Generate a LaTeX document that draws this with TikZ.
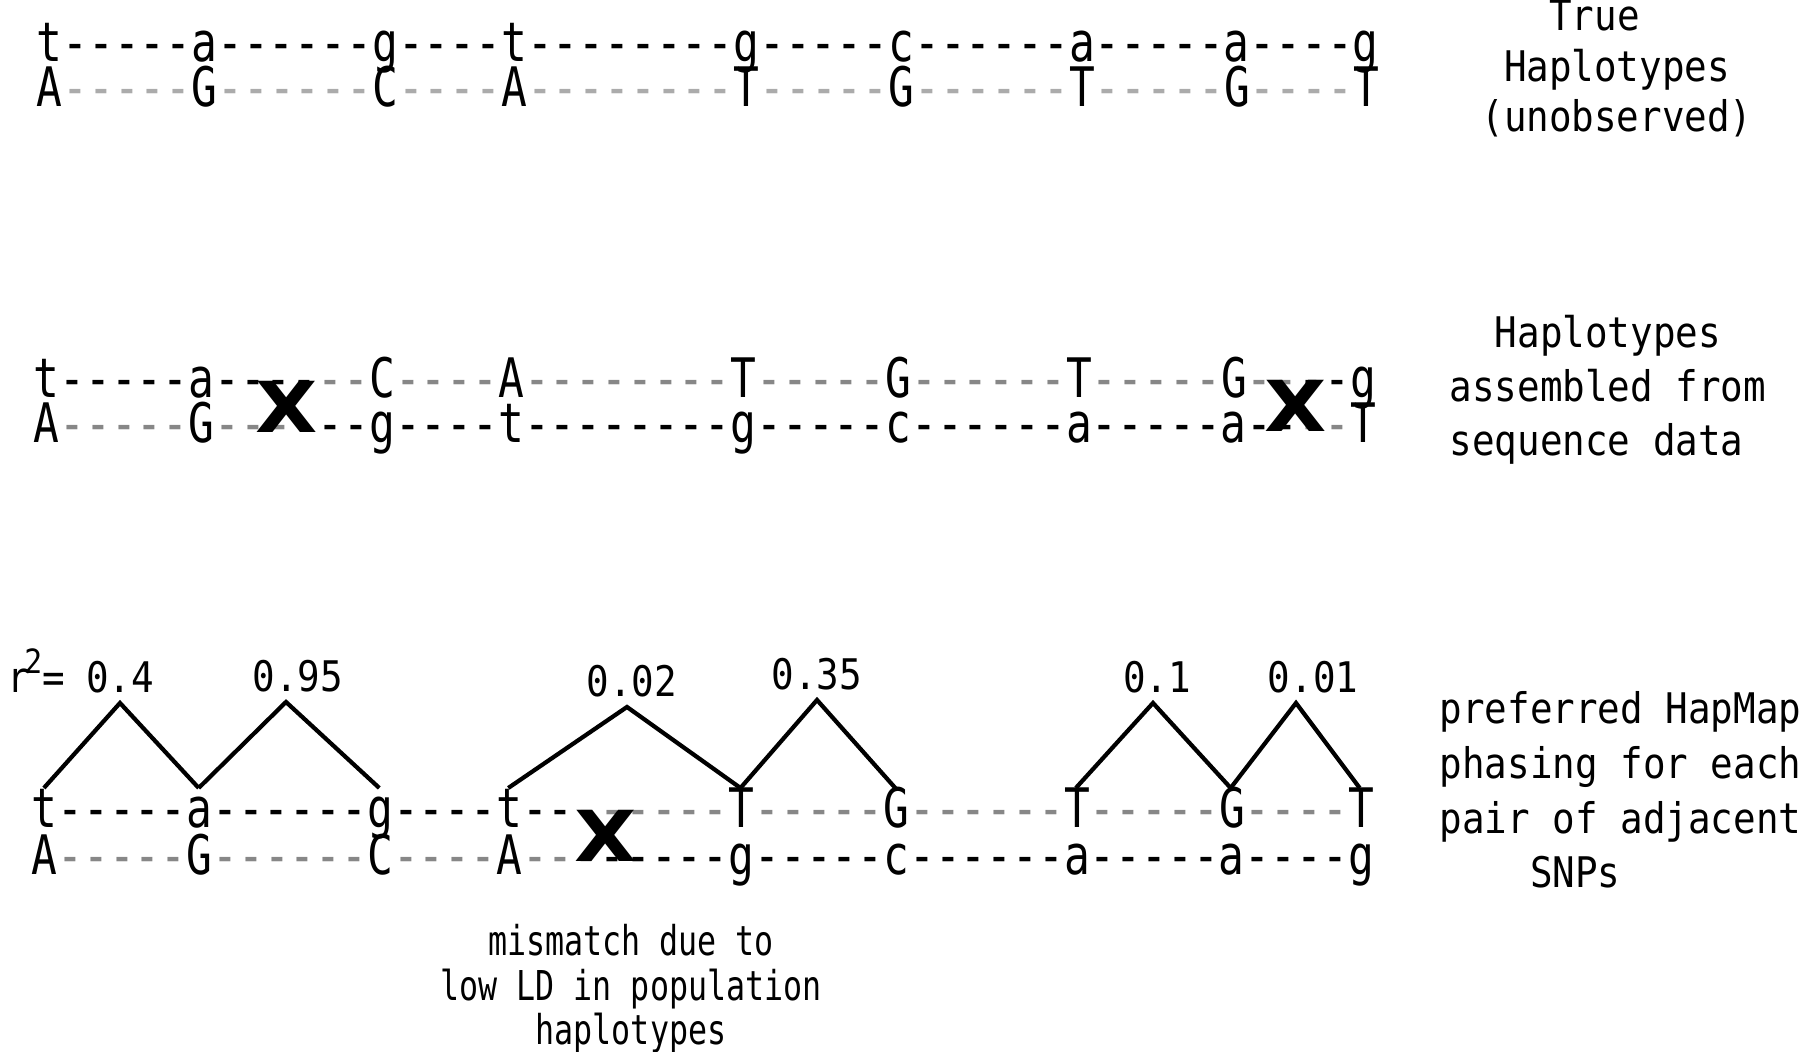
\documentclass[tikz,border=0pt]{standalone}
\usepackage{fontspec}
\usetikzlibrary{positioning, calc}
\newfontfamily\seqfont{DejaVu Sans Mono}[FakeStretch=0.787, Ligatures=TeXOff]
\newfontfamily\lblfont{DejaVu Sans Mono}[FakeStretch=0.89, Ligatures=TeXOff]
\newfontfamily\notefont{DejaVu Sans Mono}[FakeStretch=0.77, Ligatures=TeXOff]
\newfontfamily\xfont{DejaVu Sans}[FakeStretch=1.15]
\definecolor{dashlight}{gray}{0.67}
\definecolor{dashgray}{gray}{0.53}
\newcommand{\dashpale}[1]{\textcolor{dashlight}{#1}}
\newcommand{\dashgrey}[1]{\textcolor{dashgray}{#1}}
\tikzset{
	seq/.style={inner sep=0, anchor=base west, font=\seqfont\fontsize{15.5}{18}\selectfont},
	rsq/.style={inner sep=2.5pt, font=\lblfont\fontsize{12}{15}\selectfont},
	lbl/.style={inner sep=0, align=left, font=\lblfont\fontsize{12}{#1}\selectfont},
	lbl/.default=15,
	note/.style={inner sep=0, align=center, font=\notefont\fontsize{11.7}{12.8}\selectfont},
	cross/.style={inner sep=0, anchor=base, font=\xfont\bfseries\fontsize{20}{20}\selectfont},
	phase/.style={line width=1.2pt},
}
\begin{document}
\begin{tikzpicture}
			\useasboundingbox (0,0) rectangle (18,-10.52);
			
			% true haplotypes
			\node[seq] (r1a) at (0.36,-0.62) {t-----a------g----t--------g-----c------a-----a----g};
			\node[seq, below=4.5mm of r1a.base west, anchor=base west] (r1b) {A\dashpale{-----}G\dashpale{------}C\dashpale{----}A\dashpale{--------}T\dashpale{-----}G\dashpale{------}T\dashpale{-----}G\dashpale{----}T};
			\node[lbl=14.5, align=center, anchor=base] (truelbl) at (16.17,-1.32) {True\hphantom{00}\\Haplotypes\\(unobserved)};
			
			% assembled from sequence data
			\node[seq] (r2a) at (0.33,-3.98) {t-----a----\dashgrey{--}C\dashgrey{----}A\dashgrey{--------}T\dashgrey{-----}G\dashgrey{------}T\dashgrey{-----}G\dashgrey{--}--g};
			\node[seq, below=4.5mm of r2a.base west, anchor=base west] (r2b) {A\dashgrey{-----}G\dashgrey{---}---g----t--------g-----c------a-----a--\dashgrey{--}T};
			\node[cross] (x1) at (2.87,-4.33) {X};
			\node[cross] (x2) at (12.96,-4.32) {X};
			\node[lbl=15.5, anchor=base west] (seqlbl) at (14.49,-4.56) {\hphantom{00}Haplotypes\\assembled from\\sequence data};
			
			% hapmap phasing
			\node[seq] (r3a) at (0.31,-8.28) {t-----a------g----t--\dashgrey{------}T\dashgrey{-----}G\dashgrey{------}T\dashgrey{-----}G\dashgrey{----}T};
			\node[seq, below=4.7mm of r3a.base west, anchor=base west] (r3b) {A\dashgrey{-----}G\dashgrey{------}C\dashgrey{----}A\dashgrey{---}-----g-----c------a-----a----g};
			\node[cross] (x3) at (6.06,-8.62) {X};
			\node[lbl=15.6, anchor=base west] (hmlbl) at (14.39,-8.88) {preferred HapMap\\phasing for each\\pair of adjacent\\\hphantom{0000}SNPs};
			\node[note, anchor=base] (mism) at (6.31,-10.45) {mismatch due to\\low LD in population\\haplotypes};
			
			\foreach \p in {0,6,13,18,27,33,40,46,51}
				\coordinate (c\p) at ($(r3a.base west)+({(\p+0.5)*0.258},0.40)$);
			
			\coordinate (p1) at (1.20,-7.03);
			\coordinate (p2) at (2.86,-7.02);
			\coordinate (p3) at (6.27,-7.07);
			\coordinate (p4) at (8.17,-7.00);
			\coordinate (p5) at (11.53,-7.03);
			\coordinate (p6) at (12.96,-7.03);
			
			\node[rsq, above=0pt of p1] (v1) {0.4};
			\node[rsq, above=0pt of p2, xshift=0.12cm] (v2) {0.95};
			\node[rsq, above=0pt of p3, xshift=0.05cm] (v3) {0.02};
			\node[rsq, above=0pt of p4] (v4) {0.35};
			\node[rsq, above=0pt of p5, xshift=0.04cm] (v5) {0.1};
			\node[rsq, above=0pt of p6, xshift=0.17cm] (v6) {0.01};
			\node[rsq, inner sep=0, left=0.11cm of v1.base west, anchor=base east] (rsq) {r\kern-1.5pt\raisebox{5.5pt}{\fontsize{9.5}{9.5}\selectfont 2}=};
			
			\foreach \a/\m/\b in {0/p1/6, 6/p2/13, 18/p3/27, 27/p4/33, 40/p5/46, 46/p6/51}
				\draw[phase] (c\a) -- (\m) -- (c\b);
			
		\end{tikzpicture}
\end{document}
